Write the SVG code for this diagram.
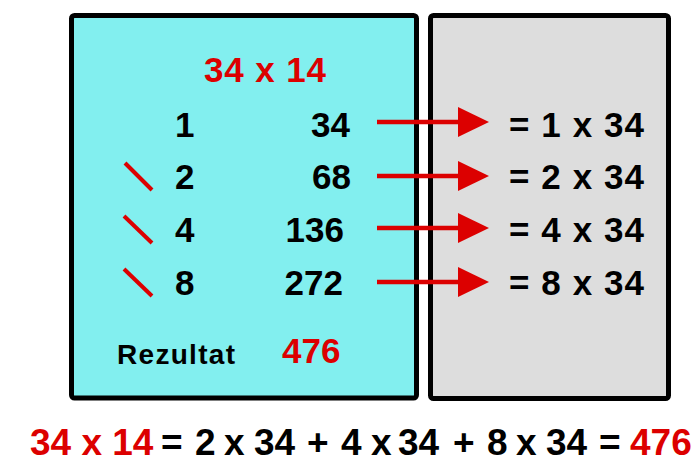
<svg xmlns="http://www.w3.org/2000/svg" width="694" height="463" viewBox="0 0 694 463">
<style>
.box{stroke:#000;stroke-width:5}
.t{font-family:"Liberation Sans",Arial,sans-serif;font-weight:bold;fill:#000}
.r{fill:#DC0000}
.slash{stroke:#DC0000;stroke-width:4;stroke-linecap:butt}
.arr{stroke:#DC0000;stroke-width:4.5}
</style>
<defs>
<marker id="ah" markerUnits="userSpaceOnUse" markerWidth="32" markerHeight="32" refX="0" refY="15" orient="auto" viewBox="0 0 32 30">
<path d="M0,0 L31,15 L0,30 Z" fill="#DC0000"/>
</marker>
</defs>
<rect width="694" height="463" fill="#fff"/>
<g id="left-panel">
<rect class="box" x="71.5" y="15.5" width="345" height="382.5" rx="3" fill="#82EFEF"/>
<text class="t r" x="265" y="82" font-size="35" text-anchor="middle" textLength="122" lengthAdjust="spacing">34 x 14</text>
<g font-size="35">
<text class="t" x="175" y="137">1</text>
<text class="t" x="175" y="189">2</text>
<text class="t" x="175" y="242">4</text>
<text class="t" x="175" y="295">8</text>
<text class="t" x="350" y="137" text-anchor="end">34</text>
<text class="t" x="351" y="189" text-anchor="end">68</text>
<text class="t" x="344" y="242" text-anchor="end">136</text>
<text class="t" x="343" y="295" text-anchor="end">272</text>
</g>
<line class="slash" x1="125" y1="163" x2="152" y2="190"/>
<line class="slash" x1="124" y1="216" x2="152" y2="243"/>
<line class="slash" x1="124" y1="269" x2="152" y2="296"/>
<text class="t" x="117" y="364" font-size="28" textLength="118" lengthAdjust="spacing">Rezultat</text>
<text class="t r" x="282" y="363" font-size="35">476</text>
</g>
<g id="right-panel">
<rect class="box" x="430.5" y="15.5" width="238" height="383" rx="3" fill="#DDDDDD"/>
<g font-size="35">
<text class="t" x="509" y="137" textLength="135" lengthAdjust="spacing">= 1 x 34</text>
<text class="t" x="509" y="189" textLength="135" lengthAdjust="spacing">= 2 x 34</text>
<text class="t" x="509" y="242" textLength="135" lengthAdjust="spacing">= 4 x 34</text>
<text class="t" x="509" y="295" textLength="135" lengthAdjust="spacing">= 8 x 34</text>
</g>
</g>
<g id="connectors">
<line class="arr" x1="377" y1="122" x2="458" y2="122" marker-end="url(#ah)"/>
<line class="arr" x1="377" y1="176" x2="458" y2="176" marker-end="url(#ah)"/>
<line class="arr" x1="377" y1="228" x2="458" y2="228" marker-end="url(#ah)"/>
<line class="arr" x1="377" y1="282" x2="458" y2="282" marker-end="url(#ah)"/>
</g>
<g id="equation" font-size="37">
<text class="t" y="455"><tspan class="r" x="30">34 x 14</tspan><tspan x="161">=</tspan><tspan x="195">2</tspan><tspan x="224">x</tspan><tspan x="254">34</tspan><tspan x="307">+</tspan><tspan x="341">4</tspan><tspan x="371">x</tspan><tspan x="398">34</tspan><tspan x="453">+</tspan><tspan x="487">8</tspan><tspan x="516">x</tspan><tspan x="546">34</tspan><tspan x="599">=</tspan><tspan class="r" x="630">476</tspan></text>
</g>
</svg>
